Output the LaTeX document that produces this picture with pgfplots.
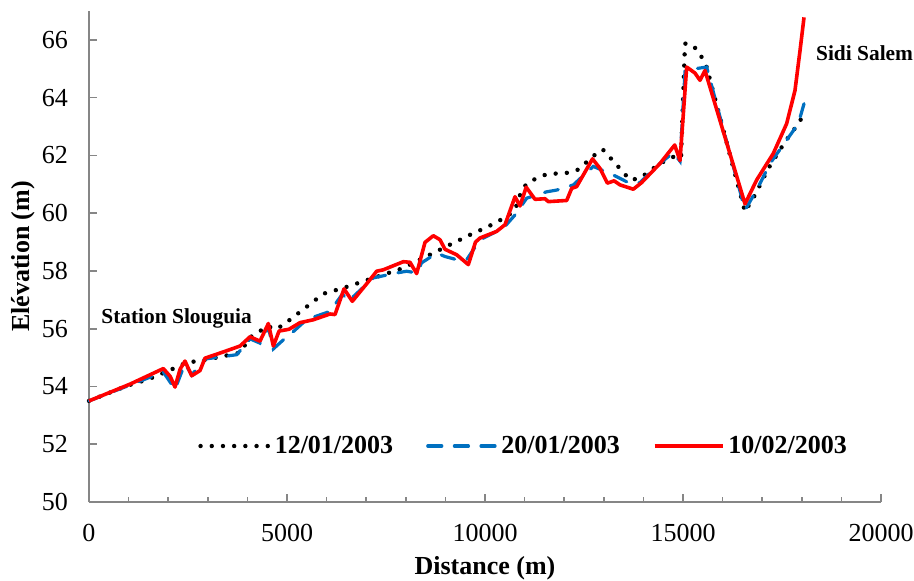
\documentclass[border=0pt]{standalone}
\usepackage{pgfplots}
\pgfplotsset{compat=1.18}
\usepackage{fontspec}
\setmainfont{Liberation Serif}
\definecolor{exblue}{RGB}{0,112,192}
\definecolor{axgray}{RGB}{134,134,134}
\begin{document}
\begin{tikzpicture}
\begin{axis}[
  scale only axis,
  width=396pt, height=245.5pt,
  at={(0,0)}, anchor=south west,
  xmin=0, xmax=20000, ymin=50, ymax=67,
  xtick={0,5000,10000,15000,20000},
  minor x tick num=4,
  ytick={50,52,...,66},
  axis lines=left,
  axis line style={-, axgray, line width=0.9pt},
  tick style={axgray, line width=0.8pt},
  tick align=inside,
  major tick length=4pt, minor tick length=2.5pt,
  scaled x ticks=false,
  /pgf/number format/set thousands separator={},
  /pgf/number format/assume math mode=true,
  ticklabel style={font=\fontsize{13}{15}\selectfont},
  xticklabel style={yshift=-7.5pt},
  yticklabel style={xshift=-7pt},
  xlabel={Distance (m)}, ylabel={Elévation (m)},
  label style={font=\fontsize{13}{15}\selectfont\bfseries},
  xlabel style={at={(axis description cs:0.5,-0.134)}, anchor=center},
  ylabel style={at={(axis description cs:-0.0833,0.5)}, anchor=center},
  clip=false,
  legend columns=3,
  legend style={at={(axis description cs:0.13,0.114)}, anchor=west, draw=none, fill=none,
    font=\fontsize{13}{15}\selectfont\bfseries,
    /tikz/every even column/.append style={column sep=14.5pt}},
  legend image code/.code={\draw[#1] (0pt,0pt) -- (34pt,0pt);},
]
\addplot[black, line width=2.2pt, line cap=round, dash pattern=on 0pt off 5.6pt] coordinates {
(0,53.50) (952,54.02) (1498,54.25) (2003,54.54) (2466,54.83) (2761,54.88) (3013,54.94)
(3813,55.17) (4066,55.70) (4529,56.10) (4655,55.98) (4865,56.09) (5497,56.76) (5917,57.21)
(6422,57.41) (6927,57.64) (7432,57.87) (7937,58.10) (8190,58.28) (8695,58.62) (9116,58.91)
(9621,59.25) (10084,59.54) (10547,59.88) (10758,60.11) (10926,60.80) (11093,61.08)
(11557,61.35) (12104,61.40) (12357,61.51) (12735,61.98) (12972,62.21) (13326,61.67)
(13662,61.15) (13914,61.21) (14419,61.72) (14756,61.95) (14950,61.90) (15050,65.87)
(15175,65.87) (15386,65.63) (15597,65.06) (16566,60.05) (16818,60.63) (17155,61.55)
(17576,62.47) (17912,63.10) (18038,63.39)
};
\addlegendentry{12/01/2003}
\addplot[exblue, line width=1.6pt, line cap=round, dash pattern=on 7pt off 6.3pt] coordinates {
(0,53.50) (1035,54.05) (1877,54.50) (2172,53.90) (2424,54.80) (2593,54.40) (2929,54.95)
(3300,55.02) (3730,55.10) (4066,55.65) (4318,55.50) (4529,56.05) (4655,55.30) (4992,55.72)
(5160,55.90) (5497,56.32) (6086,56.60) (6400,57.20) (6550,56.95) (7180,57.76) (7770,57.93)
(8021,57.99) (8274,57.93) (8400,58.28) (8779,58.62) (8990,58.50) (9285,58.39) (9537,58.39)
(9874,59.08) (10463,59.48) (10758,59.94) (11053,60.52) (11557,60.74) (11810,60.80)
(12231,60.98) (12735,61.62) (13240,61.32) (13662,61.03) (13914,61.06) (14419,61.72)
(14756,62.10) (14924,61.80) (15050,64.90) (15303,65.00) (15597,65.06) (16566,60.11)
(16860,60.80) (17197,61.72) (17617,62.53) (17912,63.10) (18056,63.79)
};
\addlegendentry{20/01/2003}
\addplot[red, line width=1.8pt, line join=round] coordinates {
(0,53.50) (1035,54.08) (1877,54.62) (2050,54.35) (2172,53.98) (2300,54.60) (2424,54.88)
(2593,54.37) (2803,54.55) (2929,54.98) (3400,55.20) (3813,55.40) (4066,55.72) (4318,55.57)
(4529,56.18) (4655,55.40) (4800,55.92) (5050,55.98) (5328,56.21) (5665,56.31) (6086,56.51)
(6212,56.49) (6440,57.38) (6650,56.95) (7050,57.62) (7264,57.99) (7432,58.04) (7937,58.32)
(8106,58.30) (8274,57.91) (8485,58.99) (8695,59.22) (8864,59.08) (8990,58.75) (9285,58.56)
(9579,58.22) (9760,59.00) (9874,59.14) (10295,59.37) (10505,59.60) (10758,60.57)
(10884,60.25) (11040,60.90) (11263,60.48) (11515,60.50) (11599,60.40) (12063,60.44)
(12189,60.86) (12315,60.92) (12715,61.88) (12904,61.55) (13090,61.04) (13260,61.12)
(13409,60.98) (13745,60.83) (13956,61.06) (14419,61.72) (14790,62.36) (14924,61.82)
(15093,65.06) (15303,64.85) (15429,64.60) (15555,64.94) (16566,60.32) (16860,61.15)
(17281,62.07) (17617,63.10) (17828,64.25) (17955,65.63) (18056,66.78)
};
\addlegendentry{10/02/2003}
\node[anchor=base west, inner sep=0pt, font=\fontsize{10.7}{12}\selectfont\bfseries] at (axis cs:303,56.18) {Station Slouguia};
\node[anchor=base west, inner sep=0pt, font=\fontsize{10.7}{12}\selectfont\bfseries] at (axis cs:18351,65.29) {Sidi Salem};
\end{axis}
\pgfresetboundingbox
\path[use as bounding box] (-44.5pt,-39pt) rectangle (412.5pt,251pt);
\end{tikzpicture}
\end{document}
